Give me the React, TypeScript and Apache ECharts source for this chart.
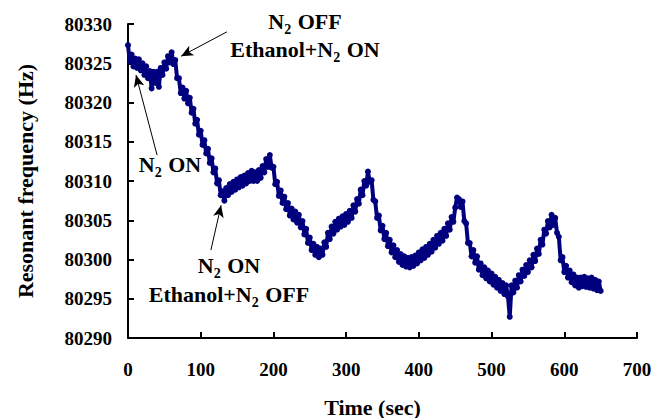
import React, { useEffect, useRef } from "react";
import * as echarts from "echarts";

// Time (sec), sampled every 2.5 s
const times: number[] = [
  0, 2.5, 5, 7.5, 10, 12.5, 15, 17.5, 20, 22.5,
  25, 27.5, 30, 32.5, 35, 37.5, 40, 42.5, 45, 47.5,
  50, 52.5, 55, 57.5, 60, 62.5, 65, 67.5, 70, 72.5,
  75, 77.5, 80, 82.5, 85, 87.5, 90, 92.5, 95, 97.5,
  100, 102.5, 105, 107.5, 110, 112.5, 115, 117.5, 120, 122.5,
  125, 127.5, 130, 132.5, 135, 137.5, 140, 142.5, 145, 147.5,
  150, 152.5, 155, 157.5, 160, 162.5, 165, 167.5, 170, 172.5,
  175, 177.5, 180, 182.5, 185, 187.5, 190, 192.5, 195, 197.5,
  200, 202.5, 205, 207.5, 210, 212.5, 215, 217.5, 220, 222.5,
  225, 227.5, 230, 232.5, 235, 237.5, 240, 242.5, 245, 247.5,
  250, 252.5, 255, 257.5, 260, 262.5, 265, 267.5, 270, 272.5,
  275, 277.5, 280, 282.5, 285, 287.5, 290, 292.5, 295, 297.5,
  300, 302.5, 305, 307.5, 310, 312.5, 315, 317.5, 320, 322.5,
  325, 327.5, 330, 332.5, 335, 337.5, 340, 342.5, 345, 347.5,
  350, 352.5, 355, 357.5, 360, 362.5, 365, 367.5, 370, 372.5,
  375, 377.5, 380, 382.5, 385, 387.5, 390, 392.5, 395, 397.5,
  400, 402.5, 405, 407.5, 410, 412.5, 415, 417.5, 420, 422.5,
  425, 427.5, 430, 432.5, 435, 437.5, 440, 442.5, 445, 447.5,
  450, 452.5, 455, 457.5, 460, 462.5, 465, 467.5, 470, 472.5,
  475, 477.5, 480, 482.5, 485, 487.5, 490, 492.5, 495, 497.5,
  500, 502.5, 505, 507.5, 510, 512.5, 515, 517.5, 520, 522.5,
  525, 527.5, 530, 532.5, 535, 537.5, 540, 542.5, 545, 547.5,
  550, 552.5, 555, 557.5, 560, 562.5, 565, 567.5, 570, 572.5,
  575, 577.5, 580, 582.5, 585, 587.5, 590, 592.5, 595, 597.5,
  600, 602.5, 605, 607.5, 610, 612.5, 615, 617.5, 620, 622.5,
  625, 627.5, 630, 632.5, 635, 637.5, 640, 642.5, 645, 647.5,
  650,
];

// Resonant frequency (Hz) (noisy trace)
const frequency: number[] = [
  80327.3, 80325.2, 80326.1, 80324.6, 80325.6, 80324.4, 80325.5, 80324.1, 80325.0, 80323.5,
  80324.6, 80323.1, 80324.0, 80321.8, 80323.9, 80322.5, 80323.9, 80322.0, 80324.4, 80323.5,
  80325.1, 80324.3, 80325.9, 80325.1, 80326.4, 80324.9, 80325.4, 80323.1, 80323.1, 80321.2,
  80321.9, 80320.5, 80321.5, 80319.9, 80320.6, 80318.7, 80319.2, 80317.3, 80317.8, 80315.9,
  80316.4, 80314.6, 80315.2, 80313.5, 80314.1, 80312.3, 80312.9, 80311.1, 80311.6, 80309.7,
  80310.1, 80308.2, 80308.7, 80307.5, 80309.1, 80308.2, 80309.6, 80308.6, 80309.9, 80308.9,
  80310.2, 80309.2, 80310.5, 80309.4, 80310.7, 80309.7, 80311.0, 80310.0, 80311.3, 80310.0,
  80311.1, 80310.0, 80311.4, 80310.4, 80311.9, 80311.1, 80312.8, 80311.8, 80313.3, 80311.7,
  80311.8, 80309.6, 80309.9, 80308.1, 80308.8, 80307.2, 80308.0, 80306.4, 80307.2, 80305.6,
  80306.5, 80305.1, 80306.1, 80304.7, 80305.7, 80304.1, 80304.9, 80303.2, 80303.9, 80302.1,
  80302.8, 80301.2, 80302.0, 80300.6, 80301.6, 80300.3, 80301.4, 80300.6, 80302.2, 80301.6,
  80303.4, 80302.6, 80304.2, 80303.3, 80304.8, 80303.8, 80305.2, 80304.2, 80305.5, 80304.4,
  80305.8, 80304.8, 80306.2, 80305.3, 80306.9, 80306.1, 80307.7, 80307.1, 80308.9, 80308.2,
  80310.0, 80309.4, 80311.2, 80309.9, 80310.1, 80307.6, 80307.4, 80305.3, 80305.6, 80303.7,
  80304.3, 80302.6, 80303.4, 80301.7, 80302.5, 80300.9, 80301.8, 80300.3, 80301.2, 80299.7,
  80300.7, 80299.3, 80300.4, 80299.1, 80300.2, 80299.0, 80300.3, 80299.2, 80300.5, 80299.5,
  80300.9, 80299.9, 80301.3, 80300.2, 80301.6, 80300.6, 80302.0, 80301.0, 80302.5, 80301.5,
  80303.0, 80302.0, 80303.4, 80302.4, 80303.9, 80303.0, 80304.6, 80303.8, 80305.4, 80304.8,
  80306.6, 80307.9, 80307.7, 80306.7, 80307.4, 80304.9, 80304.6, 80302.1, 80302.1, 80300.4,
  80301.2, 80299.6, 80300.4, 80298.7, 80299.5, 80298.0, 80299.0, 80297.6, 80298.6, 80297.2,
  80298.2, 80296.8, 80297.8, 80296.4, 80297.4, 80296.0, 80297.0, 80295.6, 80296.7, 80295.3,
  80292.7, 80296.7, 80295.8, 80297.3, 80296.4, 80298.0, 80297.2, 80298.7, 80297.9, 80299.3,
  80298.4, 80299.9, 80299.0, 80300.6, 80299.8, 80301.4, 80300.7, 80302.5, 80301.9, 80303.8,
  80303.3, 80304.9, 80304.1, 80305.7, 80304.4, 80305.3, 80303.4, 80302.9, 80299.9, 80300.3,
  80298.4, 80299.2, 80297.7, 80298.6, 80297.1, 80298.1, 80296.7, 80297.7, 80296.4, 80297.7,
  80296.6, 80297.8, 80296.5, 80297.6, 80296.4, 80297.7, 80296.3, 80297.4, 80296.1, 80297.2,
  80296.0,
];

const xTicks = { min: 0, max: 700, interval: 100 };
const yTicks = { min: 80290, max: 80330, interval: 5 };

// Arrow annotations: [start, end] in data coordinates
const arrows: [number, number][][] = [
  [[136, 80329.0], [73, 80325.9]],
  [[40, 80313.3], [11, 80323.5]],
  [[114, 80301.2], [128, 80306.9]],
];

const FONT = "'Liberation Serif', 'Times New Roman', serif";

export default function App() {
  const ref = useRef<HTMLDivElement>(null);

  useEffect(() => {
    if (!ref.current) return;
    document.body.style.margin = "0";
    document.documentElement.style.overflow = "hidden";
    const chart = echarts.init(ref.current, undefined, { renderer: "svg" });

    const rich = {
      n: { fontFamily: FONT, fontWeight: "bold", fontSize: 22, color: "#000", verticalAlign: "bottom", padding: [0, 0, 4, 0] },
      s: { fontFamily: FONT, fontWeight: "bold", fontSize: 14, color: "#000", verticalAlign: "bottom", padding: [0, 1, 0, 0] },
    };

    const label = (text: string, x: number, y: number) => ({
      type: "text",
      x,
      y,
      style: {
        text,
        rich,
        align: "center",
        verticalAlign: "middle",
        fontFamily: FONT,
        fontWeight: "bold",
        fontSize: 22,
        fill: "#000",
      },
      silent: true,
    });

    chart.setOption({
      animation: false,
      backgroundColor: "#fff",
      grid: {
        left: 128,
        right: 19,
        top: 24,
        bottom: 80,
        containLabel: false,
        outerBoundsMode: "none",
      },
      xAxis: {
        type: "value",
        min: xTicks.min,
        max: xTicks.max,
        interval: xTicks.interval,
        name: "Time (sec)",
        nameLocation: "middle",
        nameGap: 58,
        nameTextStyle: { fontFamily: FONT, fontWeight: "bold", fontSize: 22, color: "#000", padding: [0, 20, 0, 0] },
        axisLine: { show: true, onZero: false, lineStyle: { color: "#000", width: 2 } },
        axisTick: { show: true, inside: true, length: 6, lineStyle: { color: "#000", width: 2 } },
        axisLabel: { fontFamily: FONT, fontWeight: "bold", fontSize: 19, color: "#000", margin: 22 },
        splitLine: { show: false },
      },
      yAxis: {
        type: "value",
        min: yTicks.min,
        max: yTicks.max,
        interval: yTicks.interval,
        name: "Resonant frequency (Hz)",
        nameLocation: "middle",
        nameGap: 92,
        nameTextStyle: { fontFamily: FONT, fontWeight: "bold", fontSize: 22, color: "#000" },
        axisLine: { show: true, lineStyle: { color: "#000", width: 2 } },
        axisTick: { show: true, inside: true, length: 6, lineStyle: { color: "#000", width: 2 } },
        axisLabel: {
          fontFamily: FONT,
          fontWeight: "bold",
          fontSize: 19,
          color: "#000",
          margin: 16,
          formatter: (v: number) => String(v),
        },
        splitLine: { show: false },
      },
      series: [
        {
          type: "line",
          data: times.map((t, i) => [t, frequency[i]]),
          symbol: "circle",
          symbolSize: 6,
          showSymbol: true,
          itemStyle: { color: "#00007f" },
          lineStyle: { color: "#00007f", width: 4 },
          silent: true,
          markLine: {
            silent: true,
            symbol: ["none", "arrow"],
            symbolSize: [8, 12],
            label: { show: false },
            lineStyle: { color: "#000", width: 1, type: "solid" },
            data: arrows.map(([a, b]) => [{ coord: a }, { coord: b }]),
          },
        },
      ],
      graphic: [
        label("{n|N}{s|2}{n| OFF}", 305, 23),
        label("{n|Ethanol+N}{s|2}{n| ON}", 305, 51),
        label("{n|N}{s|2}{n| ON}", 170, 166),
        label("{n|N}{s|2}{n| ON}", 229, 267),
        label("{n|Ethanol+N}{s|2}{n| OFF}", 229, 296),
      ],
    });

    return () => chart.dispose();
  }, []);

  return (
    <div
      ref={ref}
      style={{ position: "fixed", left: 0, top: 0, width: "100vw", height: "100vh" }}
    />
  );
}
